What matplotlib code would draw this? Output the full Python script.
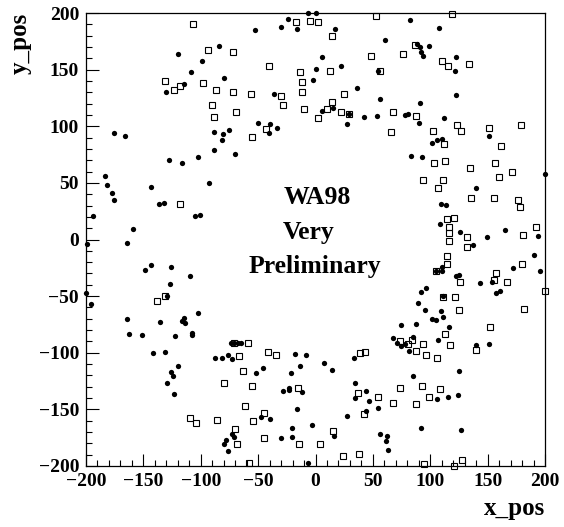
import numpy as np
import matplotlib
matplotlib.use('Agg')
import matplotlib.pyplot as plt
from matplotlib.ticker import MultipleLocator

plt.rcParams['font.family'] = ['Liberation Serif', 'DejaVu Serif']
plt.rcParams['font.weight'] = 'bold'

# filled circles
dot_x = [-83.7, -119.8, -98.5, -108.1, -79.7, -114.5, -130.2, -175.6, -166.0, -88.7, -80.2, -75.0,
         -81.4, -88.7, -70.3, -102.6, -127.9, -116.0,
         -6.4, 0.8, -24.2, -52.9, -29.7, -15.7, 16.8, 61.0, 5.5, 21.8, 0.2, 54.9, -2.1, -36.4, 36.3,
         55.8, 5.5, 15.1, 29.6, 27.6, 42.1, 53.7, -50.0, -39.3, -40.2, -33.5,
         82.5, 107.8, 88.4, 90.7, 99.1, 91.8, 93.9, 122.4, 121.2, 122.4, 91.3, 77.6, 80.8, 111.9, 90.1,
         151.1, 101.7, 105.8, 110.4, 82.8, 92.4,
         -183.4, -92.7, -181.4, -143.3, -177.3, -175.3, -136.0, -132.3, -193.9, -104.7, -100.3, -158.7,
         -199.4, -164.2, -148.5, -143.6, -125.9, -109.6, -127.0, -199.6, -195.3, -129.1, -164.2, -114.5,
         -102.6,
         199.6, 139.8, 109.3, 113.4, 108.4, 126.1, 165.1, 194.2, 149.7, 137.2, 190.1, 109.9, 104.6, 110.2,
         172.4, 195.6, 122.1, 125.3, 153.8, 143.0, 96.2, 92.1, 88.9, 111.0, 157.2, 160.7, 95.3, 109.6,
         101.4, 105.2, 111.3,
         -135.5, -116.6, -113.7, -162.5, -151.2, -122.1, -107.8, -107.8, -141.3, -131.4, -119.5, -125.9,
         -124.4, -129.4, -123.0, -87.8, -81.4, -75.9, -72.4, -73.5, -70.6, -67.5, -64.5, -72.7, -70.6,
         -78.2, -80.0, -75.9,
         67.7, -17.5, -8.2, 7.8, 14.5, -13.7, 33.4, -52.1, -45.7, -21.6, -28.5, -22.7, -22.7, -11.4,
         34.3, 34.6, 43.9, 46.5, -15.7, -47.4, -39.3, 27.6, 43.9, 54.9, -2.7, -20.1, 16.0, -29.7, -20.7,
         56.1, 62.5, 61.6, 63.6, -6.4,
         74.7, 87.5, 116.0, 70.6, 74.1, 77.9, 85.4, 81.4, 106.4, 139.5, 151.4, 125.0, 85.2, 106.1, 115.7,
         124.4, 91.6, 126.4]
dot_y = [170.9, 164.1, 157.9, 148.2, 142.9, 137.1, 130.6, 93.8, 91.5, 95.0, 93.2, 96.5,
         87.6, 79.4, 75.3, 73.2, 70.3, 67.4,
         199.7, 199.7, 195.0, 185.0, 187.9, 186.2, 185.6, 175.9, 161.2, 153.5, 150.6, 148.5, 141.2,
         128.2, 133.5, 124.4, 113.8, 116.5, 111.2, 102.4, 108.0, 109.4, 103.2, 102.1, 94.1, 98.5,
         194.1, 186.8, 172.6, 170.3, 170.9, 165.6, 162.1, 160.9, 148.5, 127.6, 120.9, 110.3, 110.9, 107.4,
         102.9, 91.8, 85.6, 87.9, 88.8, 74.1, 72.6,
         56.1, 50.2, 48.1, 46.3, 40.7, 34.8, 31.6, 32.5, 20.7, 20.7, 21.5, 9.1,
         -3.8, -2.7, -26.5, -22.7, -24.5, -32.1, -39.5, -46.9, -56.6, -50.1, -70.2, -69.0,
         -64.6,
         57.8, 45.1, 31.3, 30.4, 13.6, 6.8, 8.0, 3.5, 2.4, -4.7, -13.6, -24.5, -27.4, -27.4,
         -25.1, -28.0, -32.4, -31.6, -37.8, -38.6, -42.8, -46.3, -56.0, -49.6, -47.2, -45.7, -61.9, -62.8,
         -70.2, -70.8, -68.4,
         -72.9, -72.3, -73.8, -83.2, -84.1, -85.6, -82.6, -84.1, -100.3, -99.7, -112.1, -117.4,
         -120.4, -126.3, -136.6, -105.0, -105.0, -102.1, -105.3, -91.2, -91.2, -91.2, -91.2, -172.0,
         -174.4, -177.3, -180.6, -187.1,
         -87.0, -100.9, -101.8, -108.9, -115.4, -112.1, -104.5, -117.7, -113.6, -118.0, -133.7, -133.1,
         -130.7, -134.5, -126.6, -140.2, -134.0, -142.2, -149.9, -157.0, -158.7, -155.8, -151.1, -149.0,
         -164.0, -166.4, -173.2, -175.0, -174.1, -171.7, -173.2, -177.9, -185.9, -197.7,
         -75.8, -74.4, -77.6, -91.2, -93.8, -92.7, -86.5, -98.8, -88.8, -93.5, -92.1, -116.3, -120.7,
         -140.4, -138.7, -136.9, -166.7, -167.9]

# open squares
sq_x = [-106.4, -93.3, -71.8, -131.1, -118.3, -97.7, -123.5, -86.9, -72.1, -90.1, -68.9, -88.1,
        -16.9, -4.4, 2.3, 52.9, 14.5, 48.8, -40.7, -13.4, 12.7, 56.6, -12.2, -55.9, -30.3, -12.2, 24.7,
        -27.9, -9.9, 14.8, 10.1, 21.8, 29.6, 2.0, 67.4, -42.8, -55.0, 65.7,
        118.6, 86.9, 76.1, 109.9, 115.1, 133.7, 87.8, 123.2, 127.0, 151.1, 179.1, 102.0, 111.6, 161.3,
        103.2, 112.5, 156.1,
        -118.3, -138.1, -131.4,
        134.9, 171.5, 159.9, 93.9, 111.0, 106.7, 135.5, 155.2, 176.7, 178.2, 114.5, 120.9, 116.3, 116.3,
        191.8, 181.1, 131.7, 116.3, 132.0, 114.8, 114.2, 105.2, 179.6, 126.1, 156.9, 155.2, 166.6, 199.7,
        111.3, 121.5, 124.7, 182.0,
        -70.6, -58.5, -80.0, -109.0, -103.8, -86.0, -69.8, -68.6, -67.1,
        -41.0, -34.0, 38.6, 43.3, -62.8, -55.0, -14.9, 36.9, 54.9, 67.4, -61.7, -44.8, -54.1, 42.1, 15.4,
        -45.1, -14.0, 4.3, 24.4, 38.0, -58.2,
        152.3, 73.5, 80.8, 84.3, 87.2, 93.6, 95.9, 106.1, 112.8, 116.8, 139.8, 73.5, 92.7, 108.4, 98.5,
        87.8, 94.5, 120.6, 127.9]
sq_y = [190.6, 167.4, 165.3, 139.7, 135.3, 138.5, 131.8, 132.1, 130.3, 118.5, 112.6, 108.5,
        191.8, 192.9, 192.4, 197.1, 179.4, 162.1, 153.2, 148.2, 148.5, 148.5, 139.1, 128.8, 127.1, 130.0,
        128.5, 118.5, 115.0, 121.5, 115.6, 112.9, 111.2, 107.4, 112.6, 97.9, 90.9, 94.7,
        199.1, 172.1, 163.8, 157.9, 153.2, 155.3, 109.4, 100.9, 95.9, 98.5, 101.2, 95.9, 84.4, 82.4,
        67.4, 69.1, 67.4,
        31.6, -54.6, -50.1,
        63.4, 59.6, 55.2, 52.5, 52.2, 45.4, 36.9, 36.3, 35.1, 28.3, 18.3, 19.2, 10.6, 5.9,
        10.6, 3.8, 2.1, -1.2, -6.5, -14.2, -21.8, -28.0, -21.2, -37.2, -29.8, -35.7, -37.2, -45.1,
        -51.0, -51.0, -62.5, -61.4,
        -91.2, -91.2, -126.3, -157.8, -161.7, -159.0, -167.3, -180.3, -103.0,
        -99.4, -102.4, -100.6, -98.9, -116.3, -129.2, -131.3, -135.1, -138.7, -144.6, -146.9, -153.1,
        -160.5, -154.3, -168.8, -175.2, -180.3, -180.6, -191.2, -189.1, -197.1,
        -77.0, -89.7, -92.1, -89.1, -98.8, -92.7, -101.8, -105.0, -83.8, -93.5, -97.4, -131.0, -129.8,
        -131.6, -139.0, -144.9, -198.0, -199.7, -195.0]

W, H = 564, 527
fig = plt.figure(figsize=(W / 100, H / 100), dpi=100)
ax = fig.add_axes([86 / W, 1 - 466 / H, 459 / W, 453 / H])

ax.plot(dot_x, dot_y, 'o', color='black', markersize=3.8, markeredgewidth=0, clip_on=False)
ax.plot(sq_x, sq_y, 's', markerfacecolor='none', markeredgecolor='black', markersize=4.6,
        markeredgewidth=0.8, clip_on=False)

ax.set_xlim(-200, 200)
ax.set_ylim(-200, 200)
ax.xaxis.set_major_locator(MultipleLocator(50))
ax.xaxis.set_minor_locator(MultipleLocator(10))
ax.yaxis.set_major_locator(MultipleLocator(50))
ax.yaxis.set_minor_locator(MultipleLocator(10))
ax.tick_params(which='both', direction='in', top=False, right=False, width=0.8)
ax.tick_params(which='major', length=9, labelsize=14, pad=5)
ax.tick_params(which='minor', length=4.5)
for lab in ax.get_xticklabels() + ax.get_yticklabels():
    lab.set_fontweight('bold')
for sp in ax.spines.values():
    sp.set_linewidth(0.9)

ax.text(1.7, 31, 'WA98', ha='center', va='baseline', fontsize=18.5, fontweight='bold')
ax.text(-5.7, 0, 'Very', ha='center', va='baseline', fontsize=18.5, fontweight='bold')
ax.text(-0.4, -29.5, 'Preliminary', ha='center', va='baseline', fontsize=18.5, fontweight='bold')

fig.text(20 / W, 1 - 13 / H, 'y_pos', rotation=90, ha='center', va='top', fontsize=18, fontweight='bold')
fig.text(545 / W, 1 - 515 / H, 'x_pos', ha='right', va='baseline', fontsize=18, fontweight='bold')

fig.savefig('out.png', dpi=100)
